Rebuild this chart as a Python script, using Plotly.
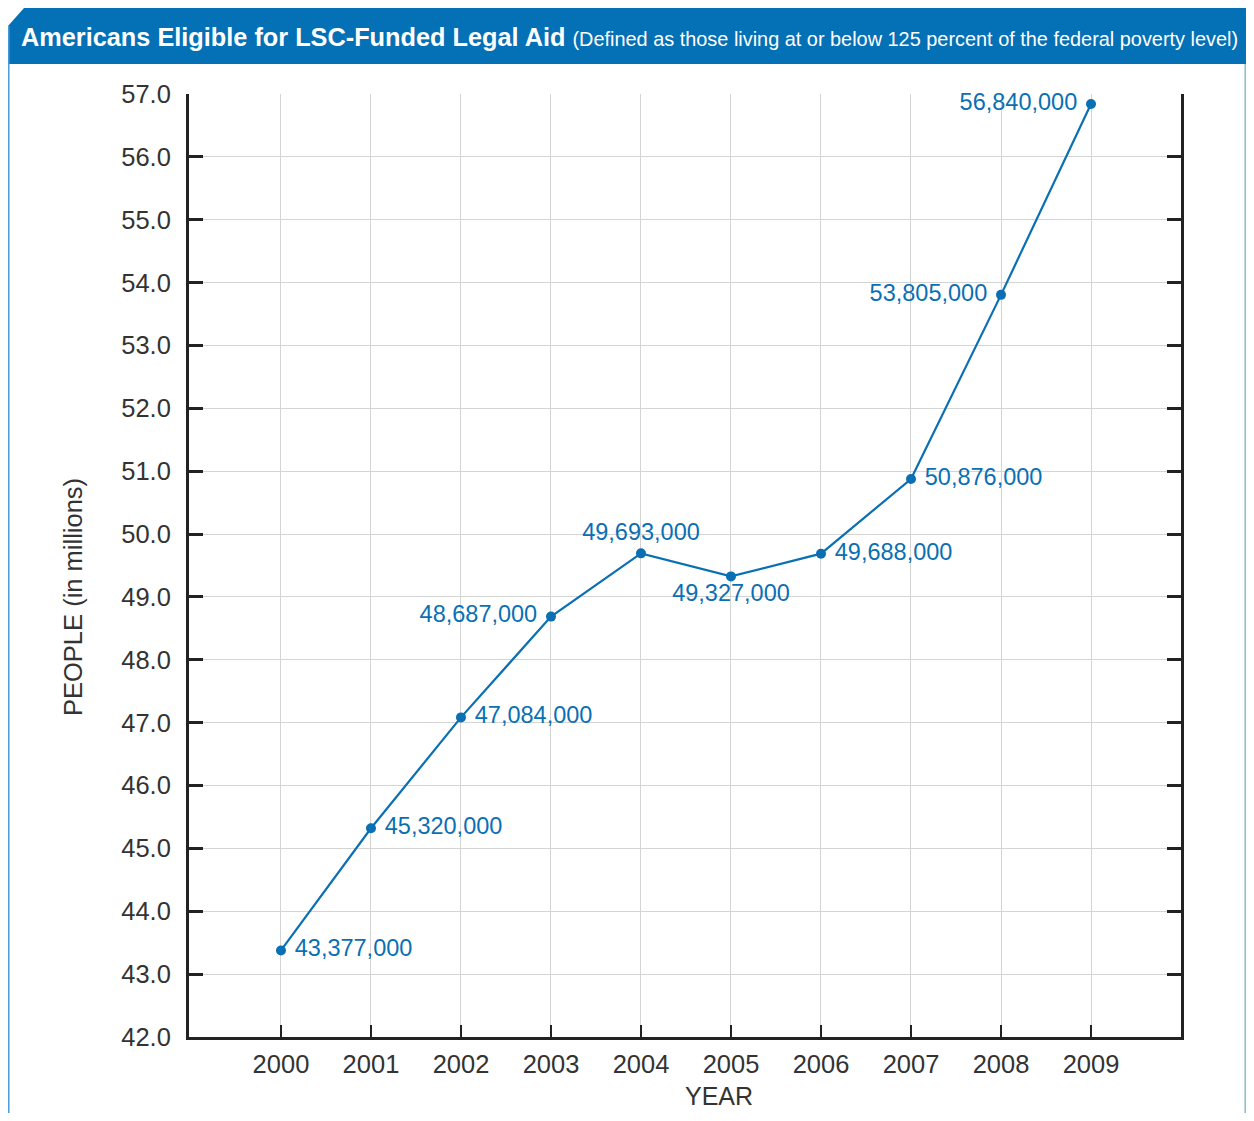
import plotly.graph_objects as go

years = [2000, 2001, 2002, 2003, 2004, 2005, 2006, 2007, 2008, 2009]
people_millions = [43.377, 45.320, 47.084, 48.687, 49.693, 49.327, 49.688, 50.876, 53.805, 56.840]
point_labels = ["43,377,000", "45,320,000", "47,084,000", "48,687,000", "49,693,000",
                "49,327,000", "49,688,000", "50,876,000", "53,805,000", "56,840,000"]
label_positions = ["middle right", "middle right", "middle right", "middle left", "top center",
                   "bottom center", "middle right", "middle right", "middle left", "middle left"]
y_ticks = [42 + i for i in range(16)]
y_tick_labels = [f"{v:.1f}" for v in y_ticks]

OFF = 8  # page body margin
W, H = 1254 - 2 * OFF, 1121 - 2 * OFF
L, T = 189 - OFF, 94 - OFF
PW, PH = 992, 943
R, B = W - L - PW, H - T - PH

def px(x):  # screen px -> paper
    return (x - OFF - L) / PW

def py(y):
    return (T + PH - (y - OFF)) / PH

BLUE = "#0470b5"
FONT = "Liberation Sans"

fig = go.Figure()
fig.add_trace(go.Scatter(
    x=years, y=people_millions, mode="lines+markers+text",
    line=dict(color="#0a6fb3", width=2.2),
    marker=dict(color="#0a6fb3", size=10),
    text=[" " + t + " " for t in point_labels], textposition=label_positions,
    textfont=dict(family=FONT, size=23.5, color="#0a6fb3"),
    cliponaxis=False, hoverinfo="skip", showlegend=False,
))

fig.update_layout(
    width=W, height=H,
    margin=dict(l=L, r=R, t=T, b=B),
    paper_bgcolor="white", plot_bgcolor="white",
    font=dict(family=FONT, color="#333333"),
    xaxis=dict(range=[1998.978, 2010], tickmode="array", tickvals=years,
               ticktext=[str(y) for y in years],
               showgrid=True, gridcolor="#d4d4d4", gridwidth=1,
               showline=True, linecolor="#222222", linewidth=3, mirror=False,
               ticks="inside", ticklen=12, tickwidth=2, tickcolor="#222222",
               tickfont=dict(family=FONT, size=25.5, color="#333333"),
               ticklabelstandoff=2,
               zeroline=False, fixedrange=True),
    yaxis=dict(range=[42, 57], tickmode="array", tickvals=y_ticks, ticktext=y_tick_labels,
               showgrid=True, gridcolor="#d4d4d4", gridwidth=1,
               showline=True, linecolor="#222222", linewidth=3, mirror="ticks",
               ticks="inside", ticklen=14, tickwidth=2.5, tickcolor="#222222",
               tickfont=dict(family=FONT, size=25.5, color="#333333"),
               ticklabelstandoff=10,
               zeroline=False, fixedrange=True),
)

# axis titles
fig.add_annotation(xref="paper", yref="paper", x=px(719), y=py(1112), xanchor="center", yanchor="bottom",
                   showarrow=False, text="YEAR", font=dict(family=FONT, size=25, color="#333333"))
fig.add_annotation(xref="paper", yref="paper", x=px(73), y=py(597), xanchor="center", yanchor="middle",
                   showarrow=False, text="PEOPLE (in millions)", textangle=-90,
                   font=dict(family=FONT, size=25.5, color="#333333"))

# title bar with bevelled corner
x0, x1 = px(8), px(1254)
ytop, ybot = py(8), py(64)
fig.add_shape(type="path", xref="paper", yref="paper",
              path=f"M {x0},{py(26)} L {px(24)},{ytop} L {x1},{ytop} L {x1},{ybot} L {x0},{ybot} Z",
              fillcolor=BLUE, line=dict(width=0), layer="above")
# side frame lines
fig.add_shape(type="line", xref="paper", yref="paper", x0=px(8.8), x1=px(8.8), y0=py(26), y1=py(1121),
              line=dict(color="#4a9ad4", width=1.5))
fig.add_shape(type="line", xref="paper", yref="paper", x0=px(1245.2), x1=px(1245.2), y0=py(64), y1=py(1121),
              line=dict(color="#8fb8d0", width=1.5))

fig.add_annotation(xref="paper", yref="paper", x=px(19), y=py(37), xanchor="left", yanchor="middle",
                   showarrow=False,
                   text="<b>Americans Eligible for LSC-Funded Legal Aid</b> "
                        "<span style='font-size:19.9px'>(Defined as those living at or below 125 percent of the federal poverty level)</span>",
                   font=dict(family=FONT, size=25.3, color="white"))

fig.write_html("out.html")
